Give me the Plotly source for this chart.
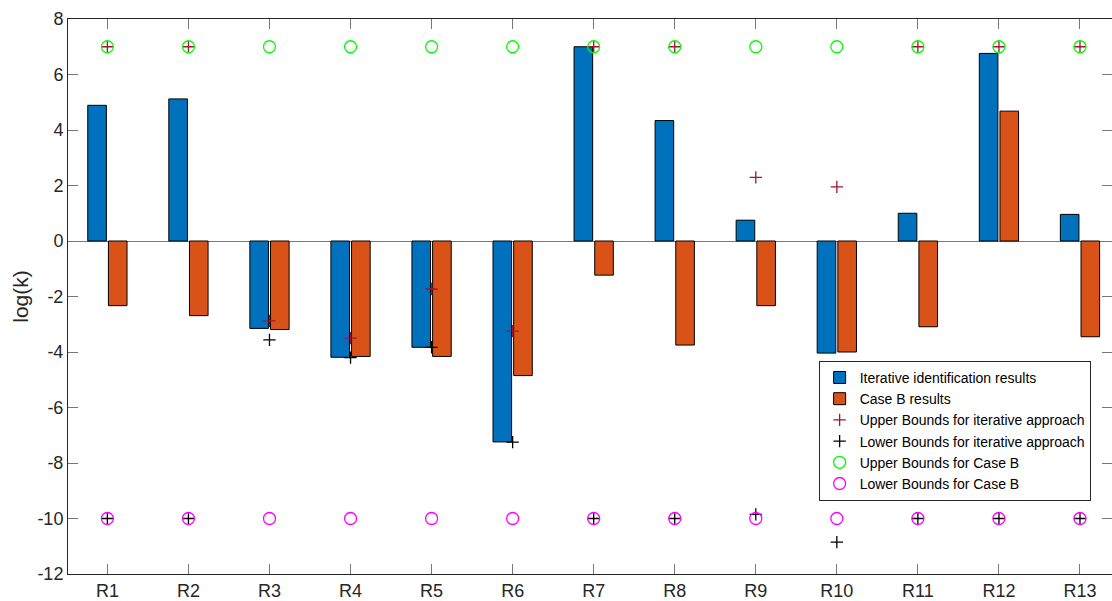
import plotly.graph_objects as go

categories = ["R1", "R2", "R3", "R4", "R5", "R6", "R7", "R8", "R9", "R10", "R11", "R12", "R13"]
iterative = [4.89, 5.12, -3.15, -4.19, -3.83, -7.24, 7.0, 4.34, 0.75, -4.04, 1.0, 6.76, 0.96]
case_b = [-2.33, -2.69, -3.19, -4.16, -4.16, -4.85, -1.23, -3.75, -2.33, -4.0, -3.09, 4.68, -3.45]
upper_iter = [7, 7, -2.88, -3.5, -1.73, -3.25, 7, 7, 2.29, 1.95, 7, 7, 7]
lower_iter = [-10, -10, -3.56, -4.2, -3.83, -7.25, -10, -10, -9.85, -10.85, -10, -10, -10]
upper_b = [7] * 13
lower_b = [-10] * 13
y_ticks = [-12, -10, -8, -6, -4, -2, 0, 2, 4, 6, 8]
y_ticklabels = [str(v) for v in y_ticks]

FONT = "Arial, Liberation Sans, sans-serif"
TXT = "#262626"

fig = go.Figure()
fig.add_trace(go.Bar(x=categories, y=iterative, name="Iterative identification results",
                     marker=dict(color="#0072BD", line=dict(color="black", width=1))))
fig.add_trace(go.Bar(x=categories, y=case_b, name="Case B results",
                     marker=dict(color="#D95319", line=dict(color="black", width=1))))
fig.add_trace(go.Scatter(x=categories, y=upper_iter, mode="markers",
                         name="Upper Bounds for iterative approach",
                         marker=dict(symbol="cross-thin", size=8.8, line=dict(color="#A2142F", width=1.3))))
fig.add_trace(go.Scatter(x=categories, y=lower_iter, mode="markers",
                         name="Lower Bounds for iterative approach",
                         marker=dict(symbol="cross-thin", size=8.8, line=dict(color="black", width=1.3))))
fig.add_trace(go.Scatter(x=categories, y=upper_b, mode="markers",
                         name="Upper Bounds for Case B",
                         marker=dict(symbol="circle-open", size=12, color="#00FF00", line=dict(color="#00FF00", width=1.3))))
fig.add_trace(go.Scatter(x=categories, y=lower_b, mode="markers",
                         name="Lower Bounds for Case B",
                         marker=dict(symbol="circle-open", size=12, color="#FF00FF", line=dict(color="#FF00FF", width=1.3))))

fig.update_layout(
    width=1112, height=601,
    margin=dict(l=68, r=0, t=19, b=27),
    paper_bgcolor="white", plot_bgcolor="white",
    barmode="group", bargap=0.49, bargroupgap=0.1,
    font=dict(family=FONT, color=TXT, size=18),
    showlegend=True,
    legend=dict(x=0.719, y=0.384, xanchor="left", yanchor="top",
                bgcolor="white", bordercolor="#262626", borderwidth=1,
                font=dict(size=14, color="black", family=FONT),
                itemwidth=30, tracegroupgap=0,
                traceorder="normal"),
)
fig.update_xaxes(
    type="category", range=[-0.486, 12.395],
    showgrid=False, zeroline=False,
    showline=True, linecolor=TXT, linewidth=1, mirror="ticks",
    ticks="inside", ticklen=10, tickcolor="#777777", tickwidth=1,
    tickfont=dict(size=18, color=TXT),
)
fig.update_yaxes(
    range=[-12, 8], tickmode="array", tickvals=y_ticks, ticktext=y_ticklabels,
    showgrid=False, zeroline=True, zerolinecolor="#7a7a7a", zerolinewidth=1,
    showline=True, linecolor=TXT, linewidth=1, mirror="ticks",
    ticks="inside", ticklen=10, tickcolor="#777777", tickwidth=1,
    tickfont=dict(size=18, color=TXT),
    title=dict(text="log(k)", font=dict(size=21, color=TXT), standoff=3),
)

fig.write_html("out.html", config={"displayModeBar": False},
               post_script="document.body.style.margin='0';document.body.style.overflow='hidden';")
